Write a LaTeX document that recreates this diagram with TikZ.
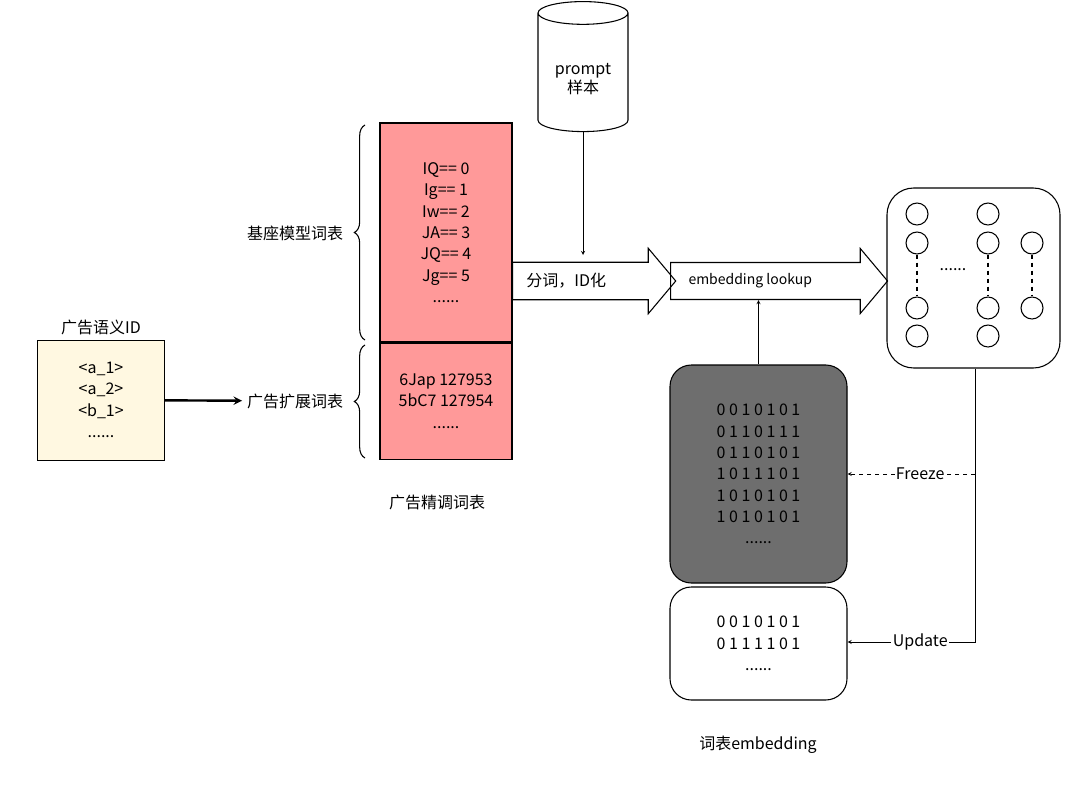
\documentclass[tikz,border=0pt]{standalone}
\usepackage{fontspec}
\setmainfont{Noto Sans CJK SC}
\usetikzlibrary{shapes.geometric,shapes.arrows,decorations.pathreplacing}
\definecolor{tablered}{HTML}{FF9999}
\definecolor{idyellow}{HTML}{FFF8E1}
\definecolor{frozen}{HTML}{6E6E6E}
\tikzset{
  cell/.style={draw,thick,minimum width=#1*0.75pt,align=center,inner sep=0pt},
  neuron/.style={draw,circle,minimum size=16.5pt,inner sep=0pt},
  bigarrow/.style={draw,single arrow,single arrow head extend=10.5pt,
    single arrow tip angle=100,inner xsep=4pt,inner ysep=8pt,anchor=west}
}
\begin{document}
\begin{tikzpicture}[x=0.75pt,y=-0.75pt,font=\fontsize{12}{14}\selectfont,thick]
\useasboundingbox (0,0) rectangle (1080,788);

% vocab table
\node[cell=132,fill=tablered,minimum height=219*0.75pt] (basevocab) at (446,232.5)
  {IQ== 0\\[2pt]Ig== 1\\[2pt]Iw== 2\\[2pt]JA== 3\\[2pt]JQ== 4\\[2pt]Jg== 5\\[2pt]......};
\node[cell=132,fill=tablered,minimum height=116*0.75pt,anchor=north] (extvocab) at (basevocab.south)
  {6Jap 127953\\[2pt]5bC7 127954\\[2pt]......};
\node (tablename) at (437,502) {广告精调词表};

% braces
\draw[decorate,decoration={brace,amplitude=8pt}] (365,340) -- (365,125);
\node[anchor=east] (baselabel) at (348,233) {基座模型词表};
\draw[decorate,decoration={brace,amplitude=8pt}] (365,458) -- (365,345);
\node[anchor=east] (extlabel) at (348,401) {广告扩展词表};

% semantic ids
\node[cell=127,fill=idyellow,minimum height=120*0.75pt,thin] (semid) at (101,400)
  {<a\_1>\\[2pt]<a\_2>\\[2pt]<b\_1>\\[2pt]......};
\node[above=0pt] (semtitle) at (semid.north) {广告语义ID};
\draw[->,line width=1.8pt,>=stealth] (semid) -- (extlabel);

% prompt samples
\node[draw,cylinder,shape border rotate=90,aspect=0.35,minimum width=90*0.75pt,
  minimum height=130*0.75pt,align=center] (prompt) at (583,75) {\\prompt\\样本};

% big arrows
\node[bigarrow,minimum height=158*0.75pt] (tokenize) at (512,281)
  {\hspace*{0.5em}分词，ID化\hspace*{3em}};
\node[bigarrow,minimum height=217*0.75pt,font=\fontsize{10.5}{12}\selectfont] (lookup) at (670,281)
  {embedding lookup\hspace*{3em}};
\draw[->,thin,>=stealth] (prompt) -- (583,255);

% network
\node[draw,rounded corners=20pt,minimum width=173*0.75pt,minimum height=180*0.75pt] (net) at (973.5,278) {};
\foreach \x/\c in {917/a,988/b} {
  \node[neuron] (\c1) at (\x,214) {};
  \node[neuron] (\c2) at (\x,243) {};
  \node[neuron] (\c3) at (\x,308) {};
  \node[neuron] (\c4) at (\x,336) {};
  \draw[dashed] (\c2) -- (\c3);
}
\node[neuron] (c2) at (1032,243) {};
\node[neuron] (c3) at (1032,308) {};
\draw[dashed] (c2) -- (c3);
\node (netdots) at (953,270) {......};

% embedding tables
\node[draw,rounded corners=16pt,fill=frozen,minimum width=177*0.75pt,minimum height=218*0.75pt,
  align=center] (frozenemb) at (758.5,474)
  {0 0 1 0 1 0 1\\[2pt]0 1 1 0 1 1 1\\[2pt]0 1 1 0 1 0 1\\[2pt]1 0 1 1 1 0 1\\[2pt]1 0 1 0 1 0 1\\[2pt]1 0 1 0 1 0 1\\[2pt]......};
\node[draw,rounded corners=16pt,minimum width=177*0.75pt,minimum height=113*0.75pt,
  align=center] (newemb) at (758.5,643.5)
  {0 0 1 0 1 0 1\\[2pt]0 1 1 1 1 0 1\\[2pt]......};
\node (embname) at (758,745) {词表embedding};
\draw[->,thin,>=stealth] (frozenemb) -- (lookup.south -| frozenemb);

% feedback
\coordinate (netdown) at (975,642);
\draw[->,thin,>=stealth] (net.south -| netdown) -- (netdown) -- (newemb.east |- netdown)
  node[pos=0.43,fill=white,inner sep=1pt] {Update};
\draw[->,thin,dashed,>=stealth] (975,474) -- (frozenemb.east |- 0,474)
  node[pos=0.43,fill=white,inner sep=1pt] {Freeze};
\end{tikzpicture}
\end{document}
